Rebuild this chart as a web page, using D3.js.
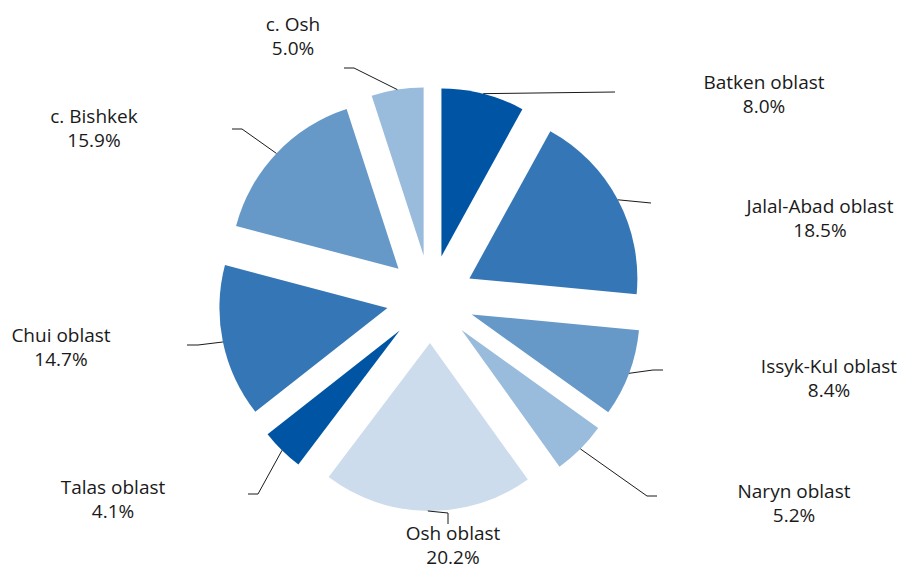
<!DOCTYPE html>
<html>
<head>
<meta charset="utf-8">
<script src="https://cdn.jsdelivr.net/npm/d3@7"></script>
<style>
  html, body { margin: 0; padding: 0; background: #ffffff; }
  svg { display: block; }
  text { font-family: "Open Sans", "Noto Sans", sans-serif; fill: #1a1a1a; }
</style>
</head>
<body>
<svg id="chart" width="900" height="570"></svg>
<script>
// Regions, clockwise from 12 o'clock
const regions = [
  "Batken oblast", "Jalal-Abad oblast", "Issyk-Kul oblast", "Naryn oblast",
  "Osh oblast", "Talas oblast", "Chui oblast", "c. Bishkek", "c. Osh"
];
// Share of total, percent
const shares = [8.0, 18.5, 8.4, 5.2, 20.2, 4.1, 14.7, 15.9, 5.0];
// Slice fills
const fills = [
  "#0054a4", "#3577b6", "#6699c8", "#99bbdc", "#ccdcec",
  "#0054a4", "#3577b6", "#6699c8", "#99bbdc"
];

// Label layout: text anchor (centre, first baseline) plus leader elbow and end
const labelLayout = {
  "Batken oblast":     { x: 764, y: 89,  elbow: null,       end: [615, 92] },
  "Jalal-Abad oblast": { x: 820, y: 213, elbow: null,       end: [651, 203] },
  "Issyk-Kul oblast":  { x: 829, y: 373, elbow: [653, 370], end: [663, 370] },
  "Naryn oblast":      { x: 794, y: 498, elbow: [647, 496], end: [657, 496] },
  "Osh oblast":        { x: 453, y: 540, elbow: [448, 513], end: [448, 524] },
  "Talas oblast":      { x: 113, y: 494, elbow: [258, 494], end: [248, 494] },
  "Chui oblast":       { x: 61,  y: 342, elbow: [198, 345], end: [187, 345] },
  "c. Bishkek":        { x: 94,  y: 123, elbow: [242, 129], end: [232, 129] },
  "c. Osh":            { x: 293, y: 31,  elbow: [354, 68],  end: [344, 68] }
};

const data = regions.map((name, i) => ({ name, value: shares[i], fill: fills[i] }));

const cx = 430.5, cy = 299;
const radius = 168;
const explode = 44;
const lineGap = 24;

const svg = d3.select("#chart");

const pie = d3.pie().sort(null).value(d => d.value);
const arc = d3.arc().innerRadius(0).outerRadius(radius);
const arcs = pie(data);

const g = svg.append("g").attr("transform", `translate(${cx},${cy})`);

// Offset of each exploded slice along its bisector
function offset(d) {
  const a = (d.startAngle + d.endAngle) / 2;
  return [explode * Math.sin(a), -explode * Math.cos(a)];
}

g.selectAll("path.slice")
  .data(arcs)
  .join("path")
  .attr("class", "slice")
  .attr("d", arc)
  .attr("fill", d => d.data.fill)
  .attr("transform", d => {
    const [dx, dy] = offset(d);
    return `translate(${dx},${dy})`;
  });

// Leader lines from the outer edge of each slice to its label
const line = d3.line();
svg.selectAll("path.leader")
  .data(arcs)
  .join("path")
  .attr("class", "leader")
  .attr("fill", "none")
  .attr("stroke", "#1a1a1a")
  .attr("stroke-width", 1)
  .attr("d", d => {
    const a = (d.startAngle + d.endAngle) / 2;
    const [dx, dy] = offset(d);
    const start = [cx + dx + radius * Math.sin(a), cy + dy - radius * Math.cos(a)];
    const L = labelLayout[d.data.name];
    const pts = [start];
    if (L.elbow) pts.push(L.elbow);
    pts.push(L.end);
    return line(pts);
  });

// Labels: name and percentage on two lines
const labels = svg.selectAll("text.label")
  .data(arcs)
  .join("text")
  .attr("class", "label")
  .attr("text-anchor", "middle")
  .attr("font-size", 19)
  .attr("x", d => labelLayout[d.data.name].x)
  .attr("y", d => labelLayout[d.data.name].y);

labels.append("tspan")
  .attr("x", d => labelLayout[d.data.name].x)
  .text(d => d.data.name);
labels.append("tspan")
  .attr("x", d => labelLayout[d.data.name].x)
  .attr("dy", lineGap)
  .text(d => d.data.value.toFixed(1) + "%");
</script>
</body>
</html>
